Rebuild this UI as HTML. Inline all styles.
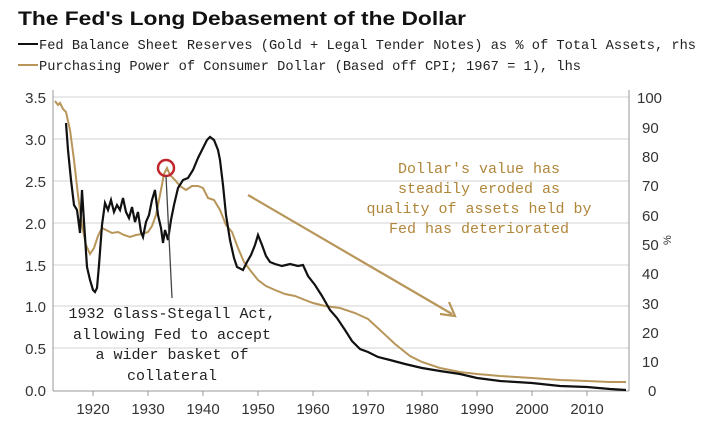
<!DOCTYPE html>
<html><head><meta charset="utf-8"><style>
html,body{margin:0;padding:0;background:#fff;}
svg{display:block;}
</style></head><body>
<svg width="717" height="427" viewBox="0 0 717 427" xmlns="http://www.w3.org/2000/svg">
<rect width="717" height="427" fill="#fff"/>
<text x="18" y="25" font-family="Liberation Sans, sans-serif" font-weight="bold" font-size="19" textLength="448" lengthAdjust="spacingAndGlyphs" fill="#111">The Fed's Long Debasement of the Dollar</text>
<line x1="18" y1="44" x2="38" y2="44" stroke="#111" stroke-width="2"/>
<text x="39" y="49" font-family="Liberation Mono, monospace" font-size="14" textLength="657" lengthAdjust="spacingAndGlyphs" fill="#222">Fed Balance Sheet Reserves (Gold + Legal Tender Notes) as % of Total Assets, rhs</text>
<line x1="18" y1="65" x2="38" y2="65" stroke="#b8965a" stroke-width="2"/>
<text x="39" y="70" font-family="Liberation Mono, monospace" font-size="14" textLength="542" lengthAdjust="spacingAndGlyphs" fill="#222">Purchasing Power of Consumer Dollar (Based off CPI; 1967 = 1), lhs</text>
<g stroke="#e2e2e2" stroke-width="1.5">
<line x1="53" y1="97" x2="629" y2="97"/><line x1="53" y1="139" x2="629" y2="139"/><line x1="53" y1="181" x2="629" y2="181"/><line x1="53" y1="223" x2="629" y2="223"/><line x1="53" y1="265" x2="629" y2="265"/><line x1="53" y1="306" x2="629" y2="306"/><line x1="53" y1="348" x2="629" y2="348"/>
</g>
<g stroke="#999" stroke-width="1">
<line x1="53" y1="90" x2="53" y2="391"/><line x1="629" y1="90" x2="629" y2="391"/><line x1="53" y1="391" x2="629" y2="391"/>
<line x1="93" y1="391" x2="93" y2="396"/><line x1="148" y1="391" x2="148" y2="396"/><line x1="203" y1="391" x2="203" y2="396"/><line x1="258" y1="391" x2="258" y2="396"/><line x1="313" y1="391" x2="313" y2="396"/><line x1="368" y1="391" x2="368" y2="396"/><line x1="422" y1="391" x2="422" y2="396"/><line x1="477" y1="391" x2="477" y2="396"/><line x1="532" y1="391" x2="532" y2="396"/><line x1="587" y1="391" x2="587" y2="396"/>
</g>
<g font-family="Liberation Sans, sans-serif" font-size="15" fill="#333" text-anchor="end">
<text x="46" y="103">3.5</text><text x="46" y="145">3.0</text><text x="46" y="187">2.5</text><text x="46" y="229">2.0</text><text x="46" y="271">1.5</text><text x="46" y="312">1.0</text><text x="46" y="354">0.5</text><text x="46" y="396">0.0</text>
</g>
<g font-family="Liberation Sans, sans-serif" font-size="15" fill="#333">
<text x="637" y="103">100</text><text x="642" y="133">90</text><text x="642" y="162">80</text><text x="642" y="191">70</text><text x="642" y="221">60</text><text x="642" y="250">50</text><text x="642" y="279">40</text><text x="642" y="309">30</text><text x="642" y="338">20</text><text x="642" y="367">10</text><text x="648" y="396">0</text>
<text x="664" y="244" font-size="11" transform="rotate(-90 668 241)">%</text>
</g>
<g font-family="Liberation Sans, sans-serif" font-size="15" fill="#333" text-anchor="middle">
<text x="93" y="414">1920</text><text x="148" y="414">1930</text><text x="203" y="414">1940</text><text x="258" y="414">1950</text><text x="313" y="414">1960</text><text x="368" y="414">1970</text><text x="422" y="414">1980</text><text x="477" y="414">1990</text><text x="532" y="414">2000</text><text x="587" y="414">2010</text>
</g>
<polyline fill="none" stroke="#b8965a" stroke-width="2" points="55,101 58,105 60,103 63,109 66,112 70,130 74,160 78,195 82,225 86,245 90,254 94,248 98,236 102,228 106,230 112,233 118,232 124,235 130,237 136,235 142,234 148,232 152,226 156,215 160,195 164,174 167,168 170,175 175,180 180,186 186,190 192,186 198,186 203,188 208,198 214,200 220,210 226,225 232,232 238,248 244,262 250,270 258,280 266,286 275,290 285,294 295,296 305,300 313,303 325,306 340,308 355,313 368,319 380,330 395,344 410,356 422,362 440,368 460,372 477,374 500,376 532,378 560,380 587,381 610,382 626,382"/>
<polyline fill="none" stroke="#111" stroke-width="2.2" points="66,123 68,150 71,180 74,205 77,210 79,225 80,233 82,190 84,222 87,267 90,280 93,290 95,292 97,288 99,265 102,225 105,203 108,210 111,200 114,212 117,205 120,210 123,198 126,212 129,218 132,207 135,222 138,212 141,232 143,237 146,222 149,215 152,200 155,190 158,215 161,228 163,243 165,230 168,240 171,220 174,205 178,188 183,180 188,178 193,170 198,158 203,148 207,140 210,137 214,140 218,150 220,160 223,185 226,215 230,240 234,258 237,267 243,270 247,262 251,255 255,245 258,235 262,245 266,256 270,262 275,264 282,266 290,264 298,266 303,265 308,276 315,285 322,296 330,310 337,318 345,330 352,341 360,349 368,352 378,357 390,360 405,364 422,368 440,371 460,374 477,378 500,381 532,383 560,386 587,387 610,389 626,390"/>
<circle cx="166" cy="168" r="8" fill="none" stroke="#c0272d" stroke-width="2.5"/>
<line x1="166" y1="176" x2="172" y2="298" stroke="#444" stroke-width="1.3"/>
<g font-family="Liberation Mono, monospace" font-size="15" fill="#222" text-anchor="middle">
<text x="172" y="318">1932 Glass-Stegall Act,</text>
<text x="172" y="339">allowing Fed to accept</text>
<text x="172" y="359">a wider basket of</text>
<text x="172" y="380">collateral</text>
</g>
<line x1="248" y1="195" x2="452" y2="314" stroke="#b8965a" stroke-width="2.2"/>
<polyline points="440,314 455,316 449,302" fill="none" stroke="#b8965a" stroke-width="2.2"/>
<g font-family="Liberation Mono, monospace" font-size="15" fill="#b0863a" text-anchor="middle">
<text x="479" y="173">Dollar's value has</text>
<text x="479" y="193">steadily eroded as</text>
<text x="479" y="213">quality of assets held by</text>
<text x="479" y="233">Fed has deteriorated</text>
</g>
</svg>
</body></html>
